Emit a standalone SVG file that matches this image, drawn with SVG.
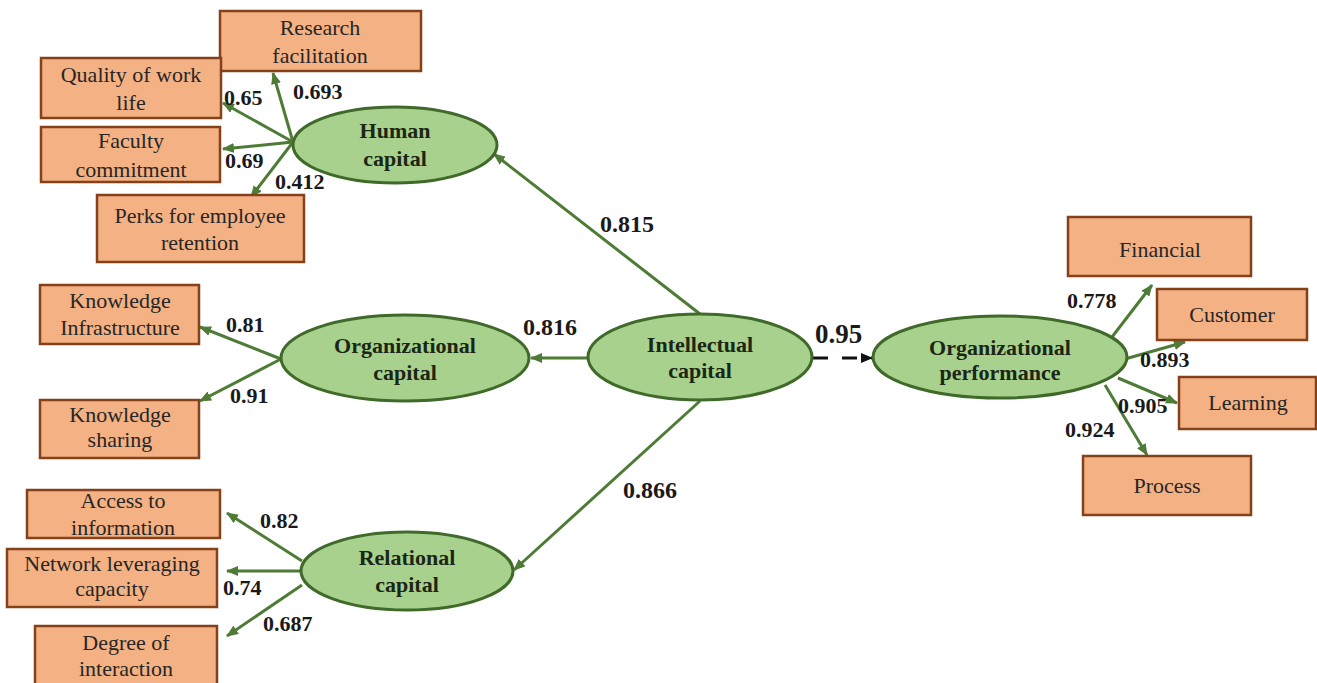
<svg xmlns="http://www.w3.org/2000/svg" width="1317" height="683" viewBox="0 0 1317 683">
  <style>
    .box { fill: #f4b183; stroke: #84411a; stroke-width: 2.5; }
    .latent { fill: #a9d18e; stroke: #3f6a2a; stroke-width: 3; }
    .btxt { font-family: "Liberation Serif", "Times New Roman", serif; font-size: 22px; fill: #262626; text-anchor: middle; }
    .ltxt { font-family: "Liberation Serif", "Times New Roman", serif; font-size: 22px; font-weight: bold; fill: #1b2614; text-anchor: middle; }
    .w { font-family: "Liberation Serif", "Times New Roman", serif; font-size: 22px; font-weight: bold; fill: #1a1a1a; }
    .wl { font-size: 24px; }
    .wx { font-size: 27px; }
    .edge { fill: none; stroke: #4e7b35; stroke-width: 3; marker-end: url(#ah); }
    .dash { fill: none; stroke: #111; stroke-width: 3; stroke-dasharray: 15 14; marker-end: url(#ahk); }
  </style>
  <defs>
    <marker id="ah" markerUnits="userSpaceOnUse" markerWidth="12" markerHeight="10" refX="11" refY="5" orient="auto">
      <path d="M0,0 L12,5 L0,10 z" fill="#4e7b35"/>
    </marker>
    <marker id="ahk" markerUnits="userSpaceOnUse" markerWidth="12" markerHeight="10" refX="11" refY="5" orient="auto">
      <path d="M0,0 L12,5 L0,10 z" fill="#111"/>
    </marker>
  </defs>

  <rect width="1317" height="683" fill="#ffffff"/>

  <!-- paths and loadings -->
  <g id="connectors">
    <!-- human capital indicators -->
    <line class="edge" x1="293" y1="142" x2="273" y2="73"/>
    <line class="edge" x1="293" y1="142" x2="223" y2="103"/>
    <line class="edge" x1="293" y1="142" x2="223" y2="149"/>
    <line class="edge" x1="293" y1="142" x2="251" y2="197"/>
    <!-- organizational capital indicators -->
    <line class="edge" x1="281" y1="359" x2="200" y2="327"/>
    <line class="edge" x1="281" y1="359" x2="200" y2="401"/>
    <!-- relational capital indicators -->
    <line class="edge" x1="302" y1="561" x2="227" y2="513"/>
    <line class="edge" x1="302" y1="571" x2="227" y2="571"/>
    <line class="edge" x1="302" y1="585" x2="227" y2="636"/>
    <!-- intellectual capital to first-order constructs -->
    <line class="edge" x1="700" y1="314" x2="494" y2="154"/>
    <line class="edge" x1="588" y1="358" x2="531" y2="358"/>
    <line class="edge" x1="700" y1="401" x2="514" y2="570"/>
    <line class="dash" x1="813" y1="358" x2="872" y2="358"/>
    <!-- organizational performance indicators -->
    <line class="edge" x1="1112" y1="337" x2="1152" y2="285"/>
    <line class="edge" x1="1125" y1="359" x2="1185" y2="342"/>
    <line class="edge" x1="1118" y1="378" x2="1177" y2="403"/>
    <line class="edge" x1="1105" y1="385" x2="1147" y2="455"/>

    <text class="w" x="293" y="99">0.693</text>
    <text class="w" x="224" y="105">0.65</text>
    <text class="w" x="225" y="168">0.69</text>
    <text class="w" x="275" y="189">0.412</text>
    <text class="w" x="226" y="332">0.81</text>
    <text class="w" x="230" y="403">0.91</text>
    <text class="w" x="260" y="528">0.82</text>
    <text class="w" x="223" y="595">0.74</text>
    <text class="w" x="263" y="631">0.687</text>
    <text class="w wl" x="600" y="232">0.815</text>
    <text class="w wl" x="523" y="335">0.816</text>
    <text class="w wx" x="815" y="343">0.95</text>
    <text class="w wl" x="623" y="498">0.866</text>
    <text class="w" x="1067" y="308">0.778</text>
    <text class="w" x="1140" y="367">0.893</text>
    <text class="w" x="1118" y="413">0.905</text>
    <text class="w" x="1065" y="437">0.924</text>
  </g>

  <!-- indicator boxes -->
  <g id="research-facilitation">
    <rect class="box" x="220" y="11" width="201" height="60"/>
    <text class="btxt" x="320" y="35">Research</text>
    <text class="btxt" x="320" y="63">facilitation</text>
  </g>
  <g id="quality-of-work-life">
    <rect class="box" x="41" y="58" width="180" height="60"/>
    <text class="btxt" x="131" y="82">Quality of work</text>
    <text class="btxt" x="131" y="110">life</text>
  </g>
  <g id="faculty-commitment">
    <rect class="box" x="41" y="127" width="179" height="55"/>
    <text class="btxt" x="131" y="148">Faculty</text>
    <text class="btxt" x="131" y="177">commitment</text>
  </g>
  <g id="perks">
    <rect class="box" x="97" y="195" width="207" height="67"/>
    <text class="btxt" x="200" y="223">Perks for employee</text>
    <text class="btxt" x="200" y="250">retention</text>
  </g>
  <g id="knowledge-infrastructure">
    <rect class="box" x="40" y="285" width="159" height="59"/>
    <text class="btxt" x="120" y="308">Knowledge</text>
    <text class="btxt" x="120" y="335">Infrastructure</text>
  </g>
  <g id="knowledge-sharing">
    <rect class="box" x="40" y="400" width="159" height="58"/>
    <text class="btxt" x="120" y="422">Knowledge</text>
    <text class="btxt" x="120" y="447">sharing</text>
  </g>
  <g id="access-to-information">
    <rect class="box" x="27" y="490" width="193" height="48"/>
    <text class="btxt" x="123" y="508">Access to</text>
    <text class="btxt" x="123" y="535">information</text>
  </g>
  <g id="network-leveraging">
    <rect class="box" x="7" y="549" width="210" height="58"/>
    <text class="btxt" x="112" y="571">Network leveraging</text>
    <text class="btxt" x="112" y="596">capacity</text>
  </g>
  <g id="degree-of-interaction">
    <rect class="box" x="35" y="626" width="182" height="62"/>
    <text class="btxt" x="126" y="650">Degree of</text>
    <text class="btxt" x="126" y="676">interaction</text>
  </g>
  <g id="financial">
    <rect class="box" x="1068" y="217" width="183" height="59"/>
    <text class="btxt" x="1160" y="257">Financial</text>
  </g>
  <g id="customer">
    <rect class="box" x="1157" y="289" width="150" height="51"/>
    <text class="btxt" x="1232" y="322">Customer</text>
  </g>
  <g id="learning">
    <rect class="box" x="1179" y="377" width="137" height="52"/>
    <text class="btxt" x="1248" y="410">Learning</text>
  </g>
  <g id="process">
    <rect class="box" x="1083" y="456" width="168" height="59"/>
    <text class="btxt" x="1167" y="493">Process</text>
  </g>

  <!-- latent constructs -->
  <g id="human-capital">
    <ellipse class="latent" cx="395" cy="145" rx="102" ry="38"/>
    <text class="ltxt" x="395" y="138">Human</text>
    <text class="ltxt" x="395" y="166">capital</text>
  </g>
  <g id="organizational-capital">
    <ellipse class="latent" cx="405" cy="358" rx="124" ry="43"/>
    <text class="ltxt" x="405" y="353">Organizational</text>
    <text class="ltxt" x="405" y="380">capital</text>
  </g>
  <g id="relational-capital">
    <ellipse class="latent" cx="407" cy="571" rx="106" ry="39"/>
    <text class="ltxt" x="407" y="565">Relational</text>
    <text class="ltxt" x="407" y="592">capital</text>
  </g>
  <g id="intellectual-capital">
    <ellipse class="latent" cx="700" cy="357" rx="112" ry="43"/>
    <text class="ltxt" x="700" y="352">Intellectual</text>
    <text class="ltxt" x="700" y="378">capital</text>
  </g>
  <g id="organizational-performance">
    <ellipse class="latent" cx="1000" cy="357" rx="127" ry="41"/>
    <text class="ltxt" x="1000" y="355">Organizational</text>
    <text class="ltxt" x="1000" y="380">performance</text>
  </g>
</svg>
